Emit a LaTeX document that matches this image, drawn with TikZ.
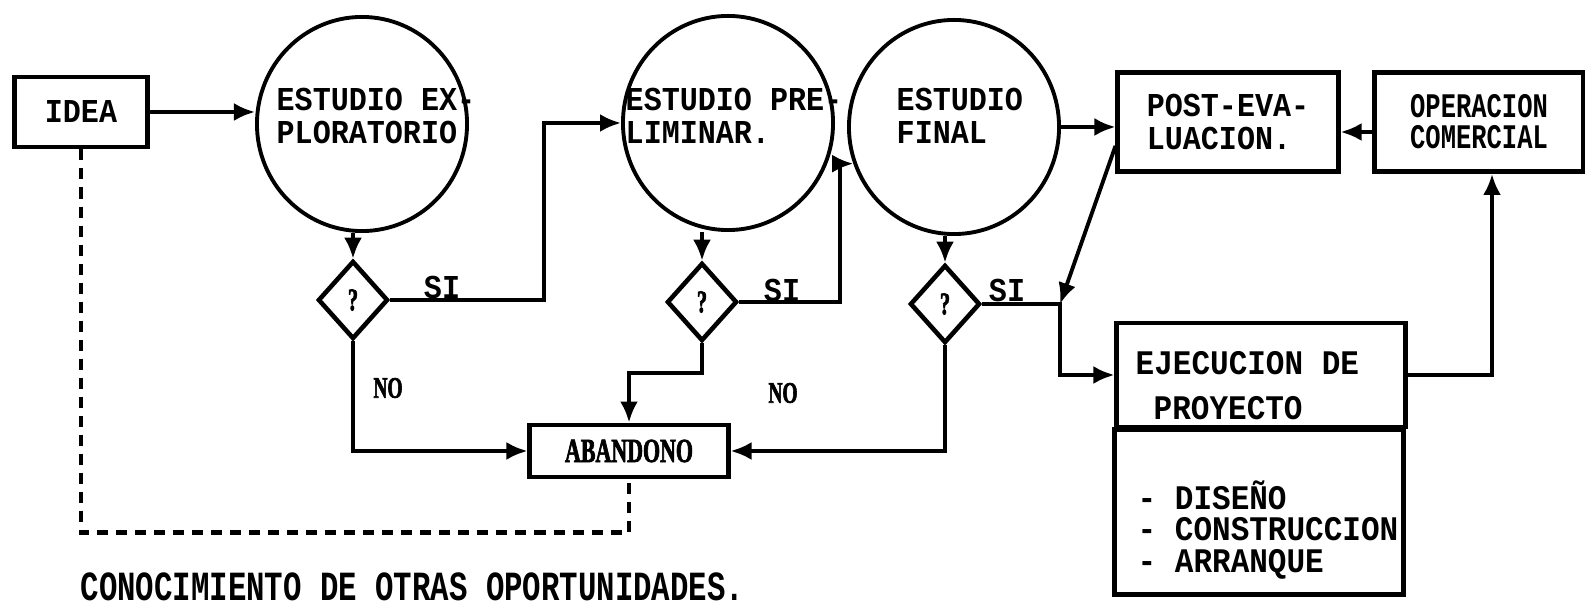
\documentclass[tikz,border=0pt]{standalone}
\usepackage{fontspec}
\newfontfamily\typew[FakeStretch=0.9]{Liberation Mono}
\newfontfamily\typewc[FakeStretch=0.74]{Liberation Mono}
\newfontfamily\serifc[FakeStretch=0.65,FakeBold=2]{Liberation Serif Bold}
\usetikzlibrary{arrows.meta,shapes.geometric}

\begin{document}
\begin{tikzpicture}[x=0.01cm, y=-0.01cm,
    arr/.style={-{Latex[length=0.21cm,width=0.18cm]}, line width=1.1pt},
    dashline/.style={line width=1.4pt, dash pattern=on 0.11cm off 0.08cm},
    box/.style={draw, line width=1.4pt, inner sep=0pt},
    est/.style={draw, ellipse, line width=1.1pt, minimum width=2.10cm, minimum height=2.14cm, inner sep=0pt},
    dec/.style={draw, diamond, line width=1.3pt, minimum width=0.70cm, minimum height=0.78cm, inner sep=0pt, font=\serifc\fontsize{9}{9}\selectfont},
    tw/.style={font=\typew\bfseries\fontsize{9.5}{9.2}\selectfont},
    lbl/.style={font=\serifc\fontsize{8.5}{8.5}\selectfont}]
  % Frame
  \useasboundingbox (0,0) rectangle (1585,610);
  % Boxes and studies
  \node[box, tw, minimum width=1.33cm, minimum height=0.70cm] (idea) at (81,112) {IDEA};
  \node[est] (e1) at (362,124) {};
  \node[est] (e2) at (728,123) {};
  \node[est] (e3) at (954,127) {};
  \node[tw, anchor=west, align=left, inner sep=0pt] (e1txt) at (276,116) {ESTUDIO EX-\\PLORATORIO};
  \node[tw, anchor=west, align=left, inner sep=0pt] (e2txt) at (625,116) {ESTUDIO PRE-\\LIMINAR.};
  \node[tw, anchor=west, align=left, inner sep=0pt] (e3txt) at (896,116) {ESTUDIO\\FINAL};
  \node[box, tw, align=left, minimum width=2.20cm, minimum height=0.99cm] (post) at (1228,122) {POST-EVA-\\LUACION.};
  \node[box, align=left, minimum width=2.08cm, minimum height=0.99cm, font=\typewc\bfseries\fontsize{9.8}{8.8}\selectfont] (oper) at (1479,122) {OPERACION\\COMERCIAL};
  \node[box, minimum width=1.98cm, minimum height=0.52cm, font=\serifc\fontsize{9.6}{9.6}\selectfont] (aband) at (629,451) {ABANDONO};
  \node[box, minimum width=2.88cm, minimum height=1.04cm] (ejec) at (1261,375) {};
  \node[anchor=west, align=left, inner sep=0pt, font=\typew\bfseries\fontsize{9.8}{12.8}\selectfont] (ejtxt) at (1135,386) {EJECUCION DE\\\hspace*{0.18cm}PROYECTO};
  \node[box, minimum width=2.88cm, minimum height=1.65cm] (lista) at (1259,512) {};
  \node[anchor=west, align=left, inner sep=0pt, font=\typew\bfseries\fontsize{9.8}{9}\selectfont] (listxt) at (1137,530) {- DISEÑO\\- CONSTRUCCION\\- ARRANQUE};
  % Decisions
  \node[dec] (d1) at (353,300) {?};
  \node[dec] (d2) at (702,302) {?};
  \node[dec] (d3) at (945,304) {?};
  \coordinate (j3) at (1060,304);
  % Labels
  \node[tw] (si1) at (442,287) {SI};
  \node[tw] (si2) at (782,290) {SI};
  \node[tw] (si3) at (1007,290) {SI};
  \node[lbl] (no1) at (388,388) {NO};
  \node[lbl] (no2) at (783,393) {NO};
  \node[anchor=west, inner sep=0pt, font=\typewc\bfseries\fontsize{11.8}{11.8}\selectfont] (nota) at (80,587) {CONOCIMIENTO DE OTRAS OPORTUNIDADES.};
  % Main flow
  \draw[arr] (idea.east) -- (idea.east -| e1.west);
  \draw[arr] (e1.south -| d1) -- (d1.north);
  \draw[arr] (d1.east) -- ++(154,0) |- (e2.west);
  \draw[arr] (e2.south -| d2) -- (d2.north);
  \draw[arr] (d2.east) -- ++(101,0) |- (e3.200);
  \draw[arr] (e3.south -| d3) -- (d3.north);
  \draw[arr] (e3.east) -- (e3.east -| post.west);
  \draw[arr] (d3.east) -- (j3) |- (ejec.west);
  \draw[arr] (post.192) -- (j3);
  \draw[arr] (ejec.east) -| ([xshift=0.13cm]oper.south);
  \draw[arr] ([yshift=-0.1cm]oper.west) -- ([yshift=-0.1cm]post.east);
  % Abandon
  \draw[arr] (d1.south) |- (aband.west);
  \draw[arr] (d2.south) -- ++(0,30) -| (aband.north);
  \draw[arr] (d3.south) |- (aband.east);
  \draw[dashline] (idea.south) -- ++(0,383) -| (aband.south);
\end{tikzpicture}
\end{document}
